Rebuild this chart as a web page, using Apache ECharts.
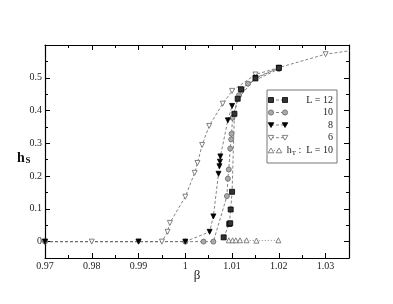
<!DOCTYPE html>
<html><head><meta charset="utf-8">
<script src="https://cdn.jsdelivr.net/npm/echarts@6/dist/echarts.min.js"></script>
<style>html,body{margin:0;padding:0;background:#fff}#c{width:393px;height:304px}</style>
</head><body><div id="c"></div>
<script>
// ---- data ----
const xTicks = [0.97, 0.98, 0.99, 1.0, 1.01, 1.02, 1.03];
const xTickLabels = ['0.97', '0.98', '0.99', '1', '1.01', '1.02', '1.03'];
const xMinor = [0.975, 0.985, 0.995, 1.005, 1.015, 1.025];
const yTicks = [0, 0.1, 0.2, 0.3, 0.4, 0.5];
const yTickLabels = ['0', '0.1', '0.2', '0.3', '0.4', '0.5'];
const yMinor = [0.05, 0.15, 0.25, 0.35, 0.45, 0.55];

const L12 = [[1.0082,0.013],[1.0094,0.054],[1.0096,0.056],[1.0097,0.098],[1.0100,0.152],[1.0105,0.390],[1.0112,0.436],[1.0119,0.465],[1.0150,0.498],[1.0200,0.530]];
const L10 = [[0.97,0],[1.0,0],[1.0039,0],[1.0060,0],[1.0089,0.139],[1.0091,0.192],[1.0093,0.220],[1.0096,0.284],[1.0098,0.312],[1.0099,0.329],[1.0101,0.378],[1.0115,0.447],[1.0121,0.463],[1.0134,0.482],[1.0200,0.527]];
const L8 = [[0.97,0],[0.99,0],[1.0,0],[1.0052,0.030],[1.0060,0.077],[1.0071,0.207],[1.0073,0.230],[1.0074,0.244],[1.0075,0.260],[1.0091,0.370],[1.0100,0.414],[1.0150,0.500],[1.0200,0.530]];
const L6 = [[0.97,0],[0.98,0],[0.99,0],[0.995,0],[0.9962,0.030],[0.9967,0.057],[1.0000,0.137],[1.0020,0.210],[1.0026,0.240],[1.0036,0.295],[1.0051,0.353],[1.0080,0.421],[1.0100,0.460],[1.0150,0.510],[1.0200,0.531],[1.0300,0.572],[1.0400,0.592]];
const hT = [[1.0093,0.004],[1.0101,0.004],[1.0108,0.004],[1.0117,0.004],[1.0131,0.004],[1.0152,0.003],[1.0199,0.004]];

const SERIF = "'Liberation Serif','DejaVu Serif',serif";
const chart = echarts.init(document.getElementById('c'), null, {renderer: 'canvas'});

function lab(ticks, labels) {
  return v => { for (let i = 0; i < ticks.length; i++) if (Math.abs(ticks[i] - v) < 1e-9) return labels[i]; return ''; };
}
function xAx(pos, minor) {
  return {
    type: 'value', position: pos, min: 0.97, max: 1.035,
    axisLine: {show: !minor, onZero: false, lineStyle: {color: '#000', width: 1.2}},
    axisTick: {show: true, inside: true, length: minor ? 3 : 5, customValues: minor ? xMinor : xTicks, lineStyle: {color: '#000', width: 1}},
    axisLabel: (pos === 'bottom' && !minor) ? {show: true, customValues: xTicks, formatter: lab(xTicks, xTickLabels), fontFamily: SERIF, fontSize: 10, color: '#222', margin: 3} : {show: false},
    splitLine: {show: false}
  };
}
function yAx(pos, minor) {
  return {
    type: 'value', position: pos, min: -0.05, max: 0.6,
    axisLine: {show: !minor, onZero: false, lineStyle: {color: '#000', width: 1.2}},
    axisTick: {show: true, inside: true, length: minor ? 3 : 5, customValues: minor ? yMinor : yTicks, lineStyle: {color: '#000', width: 1}},
    axisLabel: (pos === 'left' && !minor) ? {show: true, customValues: yTicks, formatter: lab(yTicks, yTickLabels), fontFamily: SERIF, fontSize: 10, color: '#222', margin: 3} : {show: false},
    splitLine: {show: false}
  };
}
const lineBase = {type: 'line', xAxisIndex: 0, yAxisIndex: 0, symbolSize: 5, clip: true, animation: false};
function ser(name, data, symbol, fill, border, rot, dash) {
  return Object.assign({}, lineBase, {
    name, data, symbol, symbolRotate: rot || 0,
    itemStyle: {color: fill, borderColor: border, borderWidth: 0.8},
    lineStyle: {color: '#666', width: 0.8, type: dash || [3, 2]}
  });
}

// legend graphic
const LX = 267, LY = 90, LW = 70, LH = 73;
const rows = [100, 112.5, 125, 137.7, 150.5];
function sym(kind, x, y, fill, stroke) {
  const s = {fill: fill, stroke: stroke, lineWidth: 0.8};
  if (kind === 'rect') return {type: 'rect', shape: {x: x - 2.5, y: y - 2.5, width: 5, height: 5}, style: s};
  if (kind === 'circle') return {type: 'circle', shape: {cx: x, cy: y, r: 2.6}, style: s};
  if (kind === 'down') return {type: 'polygon', shape: {points: [[x - 2.8, y - 2.3], [x + 2.8, y - 2.3], [x, y + 2.5]]}, style: s};
  return {type: 'polygon', shape: {points: [[x - 2.8, y + 2.3], [x + 2.8, y + 2.3], [x, y - 2.5]]}, style: s};
}
const legendItems = [
  ['rect', '#333', '#000', 'L = 12'],
  ['circle', '#aaa', '#666', '10'],
  ['down', '#000', '#000', '8'],
  ['down', '#fff', '#666', '6']
];
const g = [{type: 'rect', shape: {x: LX, y: LY, width: LW, height: LH}, style: {fill: '#fff', stroke: '#777', lineWidth: 1}, z: 10}];
legendItems.forEach((it, i) => {
  const y = rows[i];
  g.push({type: 'line', shape: {x1: 271, y1: y, x2: 285, y2: y}, style: {stroke: '#666', lineWidth: 0.8, lineDash: [3, 2]}, z: 11});
  g.push(Object.assign(sym(it[0], 271, y, it[1], it[2]), {z: 12}));
  g.push(Object.assign(sym(it[0], 285, y, it[1], it[2]), {z: 12}));
  g.push({type: 'text', x: 333, y: y, style: {text: it[3], fontFamily: SERIF, fontSize: 10, fill: '#222', align: 'right', verticalAlign: 'middle'}, z: 12});
});
g.push({type: 'line', shape: {x1: 271, y1: rows[4], x2: 279, y2: rows[4]}, style: {stroke: '#666', lineWidth: 0.8, lineDash: [1, 2]}, z: 11});
g.push(Object.assign(sym('up', 271, rows[4], '#fff', '#666'), {z: 12}));
g.push(Object.assign(sym('up', 279, rows[4], '#fff', '#666'), {z: 12}));
g.push({type: 'text', x: 333, y: rows[4], style: {
  text: '{a|h}{b|T}{a| :  L = 10}', align: 'right', verticalAlign: 'middle', fill: '#222',
  rich: {a: {fontFamily: SERIF, fontSize: 10, fill: '#222'}, b: {fontFamily: SERIF, fontSize: 7, fill: '#222', padding: [5, 0, 0, 0]}}
}, z: 12});
// axis titles
g.push({type: 'text', x: 17, y: 151, style: {text: 'h', fontFamily: SERIF, fontSize: 14, fontWeight: 'bold', fill: '#111'}});
g.push({type: 'text', x: 25.5, y: 156, style: {text: 'S', fontFamily: SERIF, fontSize: 9, fontWeight: 'bold', fill: '#111'}});
g.push({type: 'text', x: 197, y: 276, style: {text: 'β', fontFamily: SERIF, fontSize: 13, fill: '#222', align: 'center', verticalAlign: 'middle'}});

chart.setOption({
  animation: false,
  backgroundColor: '#fff',
  grid: {left: 45, right: 44, top: 45, bottom: 46},
  xAxis: [xAx('bottom', false), xAx('bottom', true), xAx('top', false), xAx('top', true)],
  yAxis: [yAx('left', false), yAx('left', true), yAx('right', false), yAx('right', true)],
  series: [
    ser('6', L6, 'triangle', '#fff', '#666', 180),
    ser('10', L10, 'circle', '#aaa', '#666'),
    ser('8', L8, 'triangle', '#000', '#000', 180),
    ser('L = 12', L12, 'rect', '#333', '#000'),
    ser('hT : L = 10', hT, 'triangle', '#fff', '#666', 0, [1, 2])
  ],
  graphic: g
});
</script>
</body></html>
